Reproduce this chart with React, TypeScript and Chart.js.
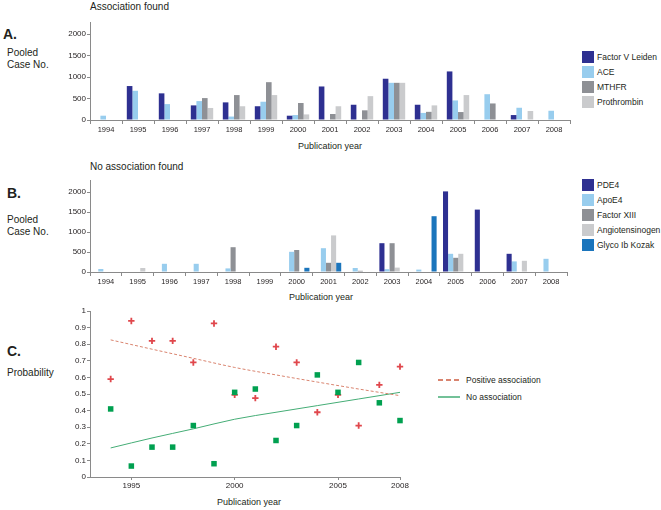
import React, { useEffect, useRef } from "react";
import { Chart, registerables } from "chart.js";

Chart.register(...registerables);

const FONT = "'Liberation Sans', Arial, Helvetica, sans-serif";
Chart.defaults.font.family = FONT;
Chart.defaults.color = "#231f20";

// ---------- DATA ----------
const YEARS = ["1994", "1995", "1996", "1997", "1998", "1999", "2000", "2001", "2002", "2003", "2004", "2005", "2006", "2007", "2008"];
const CASE_TICKS = [0, 500, 1000, 1500, 2000];

// Panel A: association found (pooled case no.)
const FACTOR_V_LEIDEN = [null, 790, 620, 340, 410, 320, 100, 780, 355, 960, 355, 1130, null, 115, null];
const ACE = [100, 680, 370, 440, 80, 425, 115, null, null, 865, 165, 455, 600, 285, 215];
const MTHFR = [null, null, null, 510, 580, 880, 395, 140, 225, 865, 190, 185, 385, null, null];
const PROTHROMBIN = [null, null, null, 280, 320, 580, 130, 320, 555, 865, 340, 580, null, 210, null];

// Panel B: no association found
const PDE4 = [null, null, null, null, null, null, null, null, null, 720, null, 2015, 1560, 455, null];
const APOE4 = [75, null, 205, 205, 90, null, 505, 595, 100, 70, 60, 455, null, 265, 330];
const FACTOR_XIII = [null, null, null, null, 620, null, 550, 230, 30, 720, null, 355, null, null, null];
const ANGIOTENSINOGEN = [null, 100, null, null, null, null, null, 915, null, 110, null, 455, null, 280, null];
const GLYCO_IB_KOZAK = [null, null, null, null, null, null, 105, 230, null, null, 1395, null, null, null, null];

// Panel C: probability
const C_YEARS = [1994, 1995, 1996, 1997, 1998, 1999, 2000, 2001, 2002, 2003, 2004, 2005, 2006, 2007, 2008];
const POSITIVE_PROB = [0.59, 0.94, 0.82, 0.82, 0.69, 0.925, 0.495, 0.475, 0.785, 0.69, 0.39, 0.495, 0.31, 0.555, 0.665];
const NO_ASSOC_PROB = [0.41, 0.066, 0.18, 0.18, 0.31, 0.08, 0.51, 0.53, 0.22, 0.31, 0.615, 0.51, 0.69, 0.447, 0.34];
const TREND_YEARS = [1994, 1996, 1998, 2000, 2002, 2004, 2006, 2008];
const POSITIVE_TREND = [0.826, 0.77, 0.715, 0.66, 0.615, 0.572, 0.53, 0.49];
const NO_ASSOC_TREND = [0.175, 0.235, 0.29, 0.348, 0.39, 0.43, 0.47, 0.51];
const C_X_TICKS = [1995, 2000, 2005, 2008];
const C_Y_TICKS = [0, 0.1, 0.2, 0.3, 0.4, 0.5, 0.6, 0.7, 0.8, 0.9, 1];

// ---------- STYLE ----------
const NAVY = "#2e3091";
const LIGHT_BLUE = "#98cdee";
const GRAY = "#8e9095";
const LIGHT_GRAY = "#cacbcd";
const BLUE = "#1b75bc";
const RED = "#e0474c";
const RED_LINE = "#d9846f";
const GREEN = "#00a050";
const GREEN_LINE = "#45ad76";
const AXIS = "#8a8a8a";
const TEXT = "#231f20";

const SERIES_A = [
  { label: "Factor V Leiden", data: FACTOR_V_LEIDEN, color: NAVY },
  { label: "ACE", data: ACE, color: LIGHT_BLUE },
  { label: "MTHFR", data: MTHFR, color: GRAY },
  { label: "Prothrombin", data: PROTHROMBIN, color: LIGHT_GRAY },
];
const SERIES_B = [
  { label: "PDE4", data: PDE4, color: NAVY },
  { label: "ApoE4", data: APOE4, color: LIGHT_BLUE },
  { label: "Factor XIII", data: FACTOR_XIII, color: GRAY },
  { label: "Angiotensinogen", data: ANGIOTENSINOGEN, color: LIGHT_GRAY },
  { label: "Glyco Ib Kozak", data: GLYCO_IB_KOZAK, color: BLUE },
];

function ChartCanvas({ makeConfig, left, top, width, height }: any) {
  const ref = useRef<HTMLCanvasElement | null>(null);
  useEffect(() => {
    const chart = new Chart(ref.current as HTMLCanvasElement, makeConfig());
    return () => chart.destroy();
  }, []);
  return (
    <canvas
      ref={ref}
      width={width}
      height={height}
      style={{ position: "absolute", left, top, width, height }}
    />
  );
}

function T({ x, cy, size, bold, children }: any) {
  return (
    <div
      style={{
        position: "absolute",
        left: x,
        top: cy - size * 0.5,
        fontSize: size,
        lineHeight: `${size}px`,
        fontWeight: bold ? "bold" : "normal",
        fontFamily: FONT,
        color: TEXT,
        whiteSpace: "nowrap",
      }}
    >
      {children}
    </div>
  );
}

function barConfig(series: any[], catPct: number, max: number) {
  return () => ({
    type: "bar",
    data: {
      labels: YEARS,
      datasets: series.map((s) => ({
        label: s.label,
        data: s.data,
        backgroundColor: s.color,
        borderWidth: 0,
        barPercentage: 1,
        categoryPercentage: catPct,
      })),
    },
    options: {
      responsive: false,
      animation: false,
      layout: { padding: { top: 10, right: 5, left: 0, bottom: 0 } },
      plugins: { legend: { display: false }, tooltip: { enabled: false } },
      scales: {
        x: {
          afterFit: (s: any) => { s.height = 17; },
          grid: { drawOnChartArea: false, drawTicks: true, tickLength: 4, color: AXIS, offset: true },
          border: { color: AXIS, width: 1 },
          ticks: { font: { size: 7.5 }, color: TEXT, padding: 1, maxRotation: 0, autoSkip: false },
        },
        y: {
          min: 0,
          max,
          afterFit: (s: any) => { s.width = 35; },
          afterBuildTicks: (s: any) => { s.ticks = CASE_TICKS.map((v) => ({ value: v })); },
          grid: { drawOnChartArea: false, drawTicks: true, tickLength: 3, color: AXIS },
          border: { color: AXIS, width: 1 },
          ticks: { font: { size: 8 }, color: TEXT, padding: 1, autoSkip: false, callback: (v: any) => String(v) },
        },
      },
    },
  });
}

function probConfig() {
  return {
    type: "scatter",
    data: {
      datasets: [
        {
          label: "No association points",
          data: C_YEARS.map((x, i) => ({ x, y: NO_ASSOC_PROB[i] })),
          pointStyle: "rect",
          pointRadius: 3.9,
          backgroundColor: GREEN,
          borderColor: GREEN,
          borderWidth: 0,
          showLine: false,
          clip: false,
          order: 0,
        },
        {
          label: "Positive association points",
          data: C_YEARS.map((x, i) => ({ x, y: POSITIVE_PROB[i] })),
          pointStyle: "cross",
          pointRadius: 3.2,
          backgroundColor: RED,
          borderColor: RED,
          borderWidth: 1.8,
          showLine: false,
          clip: false,
          order: 1,
        },
        {
          label: "Positive association",
          data: TREND_YEARS.map((x, i) => ({ x, y: POSITIVE_TREND[i] })),
          showLine: true,
          borderColor: RED_LINE,
          borderWidth: 1,
          borderDash: [3, 2],
          pointRadius: 0,
          tension: 0.4,
          cubicInterpolationMode: "monotone",
          order: 2,
        },
        {
          label: "No association",
          data: TREND_YEARS.map((x, i) => ({ x, y: NO_ASSOC_TREND[i] })),
          showLine: true,
          borderColor: GREEN_LINE,
          borderWidth: 1,
          pointRadius: 0,
          tension: 0.4,
          cubicInterpolationMode: "monotone",
          order: 2,
        },
      ],
    },
    options: {
      responsive: false,
      animation: false,
      layout: { padding: { top: 10, right: 15, left: 0, bottom: 0 } },
      plugins: { legend: { display: false }, tooltip: { enabled: false } },
      scales: {
        x: {
          type: "linear",
          min: 1993,
          max: 2008,
          afterFit: (s: any) => { s.height = 16; },
          afterBuildTicks: (s: any) => { s.ticks = C_X_TICKS.map((v) => ({ value: v })); },
          grid: { drawOnChartArea: false, drawTicks: true, tickLength: 3, color: AXIS },
          border: { color: AXIS, width: 1 },
          ticks: { font: { size: 8 }, color: TEXT, padding: 1, autoSkip: false, maxRotation: 0, callback: (v: any) => String(v) },
        },
        y: {
          min: 0,
          max: 1,
          afterFit: (s: any) => { s.width = 35; },
          afterBuildTicks: (s: any) => { s.ticks = C_Y_TICKS.map((v) => ({ value: v })); },
          grid: { drawOnChartArea: false, drawTicks: true, tickLength: 3, color: AXIS },
          border: { color: AXIS, width: 1 },
          ticks: { font: { size: 8 }, color: TEXT, padding: 1, autoSkip: false, callback: (v: any) => String(Math.round(v * 10) / 10) },
        },
      },
    },
  };
}

function BoxLegend({ items, x, top }: any) {
  return (
    <>
      {items.map((s: any, i: number) => (
        <React.Fragment key={s.label}>
          <div style={{ position: "absolute", left: x, top: top + i * 15, width: 12, height: 12, background: s.color }} />
          <T x={x + 15} cy={top + i * 15 + 6} size={8.5}>{s.label}</T>
        </React.Fragment>
      ))}
    </>
  );
}

export default function App() {
  return (
    <div style={{ position: "absolute", left: 0, top: 0, width: 661, height: 510, background: "#fff", overflow: "hidden" }}>
      {/* Panel A */}
      <T x={90} cy={7} size={10}>Association found</T>
      <T x={3} cy={34} size={14} bold>A.</T>
      <T x={7} cy={53} size={10}>Pooled</T>
      <T x={7} cy={65} size={10}>Case No.</T>
      <ChartCanvas makeConfig={barConfig(SERIES_A, 0.7, 2280)} left={55} top={12} width={520} height={125} />
      <T x={298} cy={146} size={9}>Publication year</T>
      <BoxLegend items={SERIES_A} x={582} top={51} />

      {/* Panel B */}
      <T x={90} cy={167} size={10}>No association found</T>
      <T x={7} cy={193} size={14} bold>B.</T>
      <T x={7} cy={220} size={10}>Pooled</T>
      <T x={7} cy={232} size={10}>Case No.</T>
      <ChartCanvas makeConfig={barConfig(SERIES_B, 0.8, 2300)} left={55} top={170} width={517} height={119} />
      <T x={289} cy={297} size={9}>Publication year</T>
      <BoxLegend items={SERIES_B} x={582} top={179} />

      {/* Panel C */}
      <T x={7} cy={351} size={14} bold>C.</T>
      <T x={7} cy={373} size={10}>Probability</T>
      <ChartCanvas makeConfig={probConfig} left={55} top={301} width={360} height={192} />
      <T x={217} cy={502} size={9}>Publication year</T>
      <svg style={{ position: "absolute", left: 438, top: 378 }} width={22} height={4}>
        <line x1={0} y1={2} x2={22} y2={2} stroke={RED_LINE} strokeWidth={1.8} strokeDasharray="5,3" />
      </svg>
      <T x={466} cy={380} size={8.5}>Positive association</T>
      <svg style={{ position: "absolute", left: 438, top: 395 }} width={22} height={4}>
        <line x1={0} y1={2} x2={22} y2={2} stroke={GREEN_LINE} strokeWidth={1.5} />
      </svg>
      <T x={466} cy={397} size={8.5}>No association</T>
    </div>
  );
}
